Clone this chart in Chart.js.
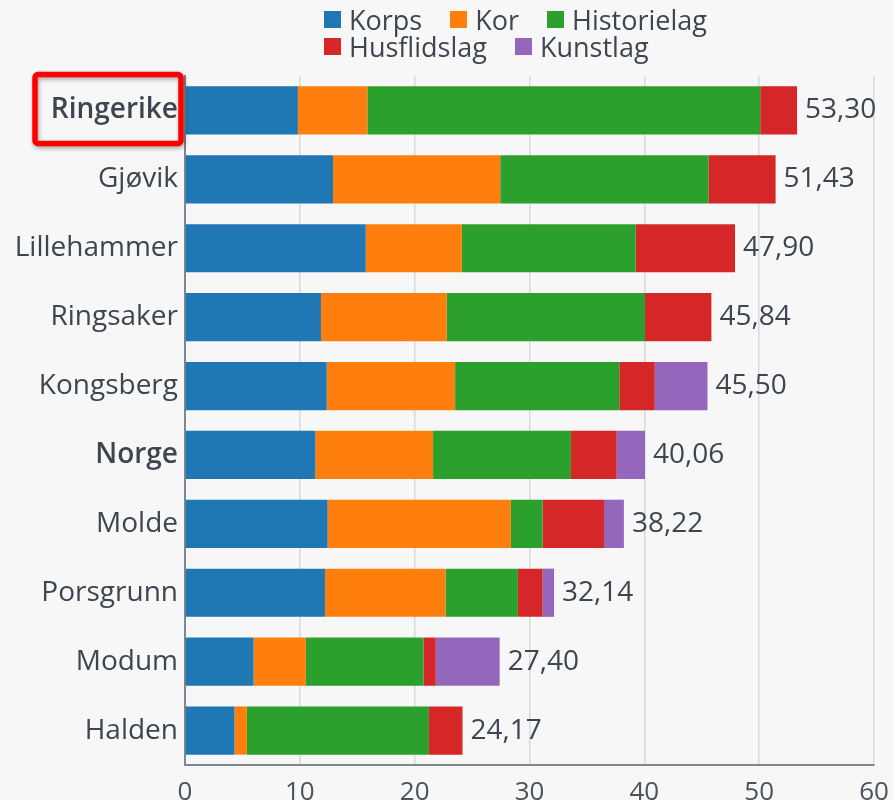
<!DOCTYPE html>
<html lang="no">
<head>
<meta charset="utf-8">
<title>Lag og foreninger</title>
<script src="https://cdn.jsdelivr.net/npm/chart.js@4.4.0/dist/chart.umd.min.js"></script>
<style>
  body { margin: 0; background: #f7f7f7; font-family: "Open Sans", sans-serif; }
  .wrap { position: relative; width: 894px; height: 800px; }
  #legend {
    position: absolute; left: 324px; top: 6px; width: 400px;
    display: flex; flex-wrap: wrap; column-gap: 28px;
    font-size: 27px; line-height: 27px; color: #3d4650;
  }
  #legend .item { display: inline-flex; align-items: center; }
  #legend .box { width: 17px; height: 17px; margin-right: 8px; display: inline-block; }
</style>
</head>
<body>
<div class="wrap">
  <canvas id="chart" width="894" height="800"></canvas>
  <div id="legend"></div>
</div>
<script>
// kategorier (kommuner) og verdier per type lag
const categories = ['Ringerike', 'Gjøvik', 'Lillehammer', 'Ringsaker', 'Kongsberg', 'Norge', 'Molde', 'Porsgrunn', 'Modum', 'Halden'];
const korps       = [9.83, 12.89, 15.74, 11.84, 12.34, 11.35, 12.42, 12.19, 5.97, 4.31];
const kor         = [6.05, 14.56, 8.37, 10.96, 11.18, 10.25, 15.96, 10.50, 4.56, 1.08];
const historielag = [34.21, 18.13, 15.14, 17.26, 14.30, 12.01, 2.76, 6.30, 10.24, 15.85];
const husflidslag = [3.21, 5.85, 8.65, 5.78, 3.09, 3.98, 5.35, 2.15, 1.07, 2.93];
const kunstlag    = [0, 0, 0, 0, 4.59, 2.47, 1.73, 1.00, 5.56, 0];
const xTicks = [0, 10, 20, 30, 40, 50, 60];

const boldLabels = ['Ringerike', 'Norge'];
const textColor = '#3d4650';
const font = '"Open Sans", sans-serif';

const series = [
  { label: 'Korps', data: korps, color: '#1f77b4' },
  { label: 'Kor', data: kor, color: '#ff7f0e' },
  { label: 'Historielag', data: historielag, color: '#2ca02c' },
  { label: 'Husflidslag', data: husflidslag, color: '#d62728' },
  { label: 'Kunstlag', data: kunstlag, color: '#9467bd' }
];

// summen skrives bak hver stolpe
const totalLabels = {
  id: 'totalLabels',
  afterDatasetsDraw(chart) {
    const { ctx, scales: { x, y } } = chart;
    ctx.save();
    ctx.font = '28px ' + font;
    ctx.fillStyle = textColor;
    ctx.textBaseline = 'middle';
    ctx.textAlign = 'left';
    categories.forEach((c, i) => {
      const sum = series.reduce((s, d) => s + d.data[i], 0);
      ctx.fillText(sum.toFixed(2).replace('.', ','), x.getPixelForValue(sum) + 8, y.getPixelForValue(i));
    });
    ctx.restore();
  }
};

// rød ramme rundt Ringerike
const highlightBox = {
  id: 'highlightBox',
  afterDraw(chart) {
    const { ctx, chartArea, scales: { y } } = chart;
    const cy = y.getPixelForValue(0);
    ctx.save();
    ctx.shadowColor = 'rgba(0,0,0,0.35)';
    ctx.shadowBlur = 4;
    ctx.shadowOffsetX = 1;
    ctx.shadowOffsetY = 2;
    ctx.strokeStyle = '#ff0000';
    ctx.lineWidth = 5.5;
    ctx.beginPath();
    ctx.roundRect(chartArea.left - 150, cy - 36, 146, 69, 3);
    ctx.stroke();
    ctx.restore();
  }
};

const ctx = document.getElementById('chart').getContext('2d');
const chart = new Chart(ctx, {
  type: 'bar',
  data: {
    labels: categories,
    datasets: series.map(s => ({
      label: s.label,
      data: s.data,
      backgroundColor: s.color,
      borderWidth: 0,
      barPercentage: 0.7,
      categoryPercentage: 1
    }))
  },
  options: {
    indexAxis: 'y',
    responsive: false,
    animation: false,
    layout: { padding: { top: 76, right: 20, left: 0, bottom: 0 } },
    plugins: {
      legend: { display: false },
      tooltip: { enabled: false }
    },
    scales: {
      x: {
        stacked: true,
        min: xTicks[0],
        max: xTicks[xTicks.length - 1],
        afterBuildTicks: axis => { axis.ticks = xTicks.map(v => ({ value: v })); },
        afterFit: axis => {
          axis.height = 35;
          axis.paddingLeft = 0;
          axis.paddingRight = 0;
        },
        grid: { color: '#d5dbe0', lineWidth: 1.5, drawTicks: false },
        border: { color: '#7f878d', width: 2 },
        ticks: { color: '#4a525a', padding: 12, font: { family: font, size: 26 } }
      },
      y: {
        stacked: true,
        afterFit: axis => { axis.width = 185; },
        grid: { display: false, drawTicks: false },
        border: { color: '#7f878d', width: 2 },
        ticks: {
          color: textColor,
          padding: 7,
          font: c => ({ family: font, size: 28, weight: boldLabels.includes(categories[c.index]) ? '600' : 'normal' })
        }
      }
    }
  },
  plugins: [totalLabels, highlightBox]
});

// egen forklaring over diagrammet (to rader, venstrejustert)
const legend = document.getElementById('legend');
series.forEach(s => {
  const item = document.createElement('span');
  item.className = 'item';
  item.innerHTML = '<span class="box" style="background:' + s.color + '"></span>' + s.label;
  legend.appendChild(item);
});
</script>
</body>
</html>
